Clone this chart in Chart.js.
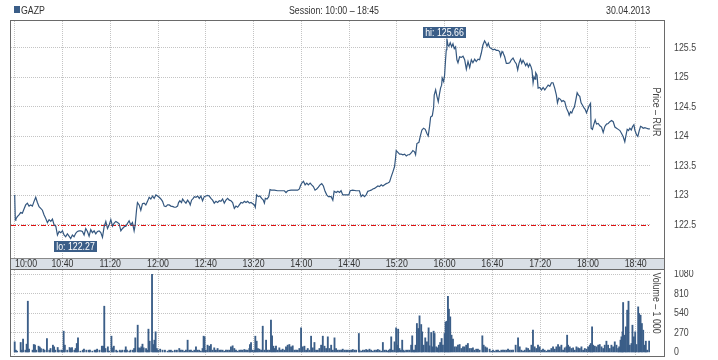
<!DOCTYPE html>
<html><head><meta charset="utf-8">
<script src="https://cdn.jsdelivr.net/npm/chart.js@4.4.1/dist/chart.umd.min.js"></script>
<style>
html,body{margin:0;padding:0;background:#fff;width:718px;height:360px;overflow:hidden;}
#wrap{position:relative;width:718px;height:360px;font-family:'Liberation Sans',Arial,sans-serif;color:#333;}
canvas{position:absolute;left:0;}
#c1{top:0;}
#c2{top:270px;}
.t{position:absolute;font-size:10px;line-height:10px;white-space:nowrap;color:#333;}
#frame{position:absolute;left:10px;top:20px;width:655px;height:337px;box-sizing:border-box;border:1px solid #6a6a6a;pointer-events:none;}
.rot{position:absolute;transform:translate(-50%,-50%) rotate(90deg) scaleX(0.88);font-size:10px;line-height:10px;white-space:nowrap;color:#444;}
#sq{position:absolute;left:14px;top:6px;width:6px;height:7px;background:#3b5e88;}
</style></head>
<body><div id="wrap">
<canvas id="c1" width="718" height="270"></canvas>
<canvas id="c2" width="718" height="90"></canvas>
<div id="frame"></div>
<div id="sq"></div>
<div class="t" id="ticker" style="left:21px;top:6px;transform:scaleX(0.88);transform-origin:left center;"></div>
<div class="t" id="session" style="left:334px;top:6px;transform:translateX(-50%) scaleX(0.88);"></div>
<div class="t" id="date" style="right:68px;top:6px;transform:scaleX(0.88);transform-origin:right center;"></div>
<div class="rot" id="ptitle" style="left:656px;top:112px;"></div>
<div class="rot" id="vtitle" style="left:656px;top:303px;"></div>
</div>
<script>
// ---- texts ----
const tickerName = 'GAZP';
const sessionText = 'Session: 10:00 \u2013 18:45';
const dateText = '30.04.2013';
const priceTitle = 'Price \u2013 RUR';
const volumeTitle = 'Volume \u2013 1 000';

// ---- tick labels ----
const timeTickMinutes = [0,40,80,120,160,200,240,280,320,360,400,440,480,520];
const timeTickLabels = ['10:00','10:40','11:20','12:00','12:40','13:20','14:00','14:40','15:20','16:00','16:40','17:20','18:00','18:40'];
const priceTicks = [122.5,123,123.5,124,124.5,125,125.5];
const volumeTicks = [0,270,540,810,1080];
const prevClose = 122.5;

// ---- price series: [minutes since 10:00, price] ----
const pricePoints = [
[0,123.01],[0.5,122.58],[1.0,122.60],[2.2,122.64],[3.6,122.67],[5.0,122.71],[6.4,122.70],[7.8,122.77],[9.2,122.84],[10.6,122.87],
[12.0,122.82],[13.4,122.84],[14.8,122.82],[16.2,122.90],[17.6,122.97],[19.0,122.88],[20.4,122.81],[21.8,122.78],[23.2,122.75],[24.6,122.67],
[26.0,122.61],[27.4,122.54],[28.8,122.59],[30.2,122.56],[31.6,122.60],[33.0,122.50],[34.4,122.48],[35.8,122.33],[37.2,122.39],[38.6,122.37],
[40.0,122.40],[41.3,122.33],[42.7,122.30],[44.1,122.35],[45.5,122.31],[46.9,122.27],[48.3,122.33],[49.7,122.30],[51.1,122.36],[52.5,122.39],
[53.9,122.40],[55.3,122.40],[56.7,122.39],[58.1,122.33],[59.5,122.44],[60.9,122.39],[62.3,122.31],[63.7,122.42],[65.1,122.37],[66.5,122.40],
[67.9,122.35],[69.3,122.39],[70.7,122.40],[72.1,122.37],[73.5,122.29],[74.9,122.47],[76.3,122.56],[77.7,122.44],[79.1,122.50],[80.5,122.59],
[81.9,122.48],[83.3,122.53],[84.7,122.56],[86.1,122.54],[87.5,122.52],[88.9,122.40],[90.3,122.44],[91.7,122.47],[93.1,122.48],[94.5,122.53],
[95.8,122.57],[97.2,122.50],[98.6,122.54],[100.0,122.40],[100.9,122.50],[102.0,122.75],[102.8,122.88],[104.2,122.84],[105.6,122.75],[107.0,122.86],
[108.4,122.87],[109.8,122.84],[111.2,122.90],[112.6,122.97],[114.0,122.94],[115.4,122.99],[116.8,122.95],[118.2,123.01],[119.6,122.99],[121.0,122.97],
[122.4,122.94],[123.8,122.90],[125.2,122.82],[126.6,122.81],[128.0,122.84],[129.4,122.84],[130.8,122.82],[132.7,122.81],
[133.6,122.80],[135.0,122.80],[136.4,122.82],[137.2,122.88],[138.3,122.91],[139.7,122.88],[140.6,122.94],[142.0,122.90],[143.4,122.87],[144.8,122.92],
[146.2,122.88],[147.0,122.84],[148.1,122.92],[149.5,122.95],[150.4,122.98],[151.8,122.97],[153.2,122.99],[154.6,122.95],[155.9,122.99],[157.3,122.91],
[158.7,122.98],[160.1,122.99],[161.5,123.00],[162.9,122.99],[164.3,122.95],[165.7,122.92],[167.1,122.87],[168.5,122.90],[169.9,122.88],[171.3,122.91],
[172.7,122.90],[174.1,122.94],[175.5,122.87],[176.9,122.92],[178.3,122.95],[179.7,122.92],[181.1,122.91],[182.5,122.88],[183.9,122.78],[185.3,122.82],
[186.7,122.80],[188.1,122.84],[189.5,122.88],[190.9,122.87],[192.3,122.90],[193.7,122.88],[195.1,122.90],[196.5,122.87],[197.9,122.88],[199.3,122.86],
[200.7,122.84],[201.5,122.80],[202.6,123.01],[204.0,122.98],[205.4,122.99],[206.8,122.95],[208.2,122.92],[209.1,122.87],[209.9,122.95],[211.3,122.94],
[212.7,122.98],[213.8,123.10],[214.9,123.09],[217.4,123.09],[220.2,123.08],[223.0,123.08],[225.8,123.08],[227.2,123.05],[228.6,123.08],[231.4,123.09],
[234.2,123.09],[237.0,123.09],[238.4,123.11],[239.2,123.16],[240.4,123.21],[241.8,123.24],[243.2,123.18],[244.6,123.21],[245.9,123.18],[247.4,123.21],
[248.7,123.18],[250.1,123.15],[251.5,123.09],[252.9,123.11],[254.3,123.14],[255.7,123.18],[257.1,123.20],[258.5,123.16],[259.9,123.07],[261.3,123.01],
[262.7,122.98],[265.0,122.98],[266.4,122.92],[267.5,123.07],[269.2,123.05],[270.6,123.07],[272.0,123.05],[273.3,123.08],[274.7,123.01],[277.5,123.01],
[279.8,123.01],[280.9,123.08],[283.1,123.09],[285.9,123.08],[288.7,123.08],[290.1,122.98],[291.5,123.01],[292.9,122.98],[294.3,123.01],[295.7,123.07],
[297.1,123.08],[298.5,123.09],[299.9,123.11],[301.3,123.12],[302.7,123.14],[304.1,123.16],[305.5,123.15],[306.9,123.18],[308.3,123.16],[309.7,123.18],
[311.1,123.20],[312.5,123.21],[313.9,123.23],[315.3,123.32],[316.7,123.40],[318.1,123.49],[318.9,123.63],[319.5,123.76],[320.9,123.73],[322.3,123.70],
[323.7,123.70],[325.1,123.69],[326.5,123.70],[327.9,123.67],[329.3,123.69],[330.6,123.69],[332.0,123.72],[333.4,123.76],[334.8,123.74],[335.7,123.69],
[336.8,123.88],[338.5,123.90],[339.6,124.00],[341.0,124.11],[342.4,124.14],[343.8,124.12],[345.2,124.05],[346.3,124.01],[347.4,124.17],[348.3,124.33],
[349.7,124.35],[350.8,124.49],[351.3,124.70],[352.5,124.79],[353.6,124.68],[354.7,124.59],[355.8,124.73],[356.6,124.82],[357.5,124.87],[358.0,124.99],
[359.2,124.93],[360.0,125.04],[360.8,125.30],[361.4,125.47],[361.9,125.66],[362.8,125.55],[363.6,125.53],[364.7,125.59],[365.9,125.52],[367.0,125.57],
[368.1,125.49],[369.2,125.52],[370.3,125.30],[371.2,125.25],[372.6,125.35],[374.0,125.34],[375.4,125.36],[376.8,125.30],[378.2,125.14],[379.6,125.27],
[381.0,125.17],[382.4,125.30],[383.7,125.25],[385.2,125.31],[386.5,125.27],[388.0,125.31],[389.3,125.30],[390.7,125.41],[392.1,125.55],[393.5,125.62],
[394.4,125.59],[395.5,125.53],[396.6,125.58],[397.7,125.51],[399.1,125.49],[400.5,125.47],[401.9,125.48],[403.3,125.46],[404.7,125.46],[406.1,125.44],
[406.9,125.36],[408.1,125.44],[408.9,125.42],[410.3,125.35],[411.7,125.24],[413.1,125.24],[414.5,125.25],[415.9,125.30],[417.3,125.33],[418.7,125.27],
[420.1,125.23],[421.2,125.13],[422.3,125.24],[423.5,125.31],[424.6,125.24],[425.7,125.29],[426.8,125.25],[427.9,125.20],[429.0,125.24],[430.2,125.18],
[431.3,125.23],[432.4,125.18],[433.2,125.12],[434.1,124.91],[434.9,125.01],[435.8,124.97],[436.3,125.08],[437.4,125.04],[438.3,124.82],[439.7,124.83],
[441.1,124.79],[442.5,124.83],[443.9,124.79],[445.3,124.83],[446.7,124.87],[448.1,124.85],[449.5,124.91],[450.8,124.91],[452.2,124.82],[453.6,124.70],
[454.5,124.57],[455.6,124.65],[457.0,124.63],[458.1,124.59],[459.2,124.61],[460.6,124.59],[462.0,124.48],[463.4,124.42],[464.3,124.36],[465.4,124.42],
[466.5,124.40],[467.6,124.46],[468.7,124.50],[469.9,124.62],[471.0,124.74],[472.1,124.70],[473.2,124.68],[474.3,124.57],[475.5,124.53],[476.6,124.49],
[477.7,124.46],[478.8,124.40],[479.9,124.46],[481.0,124.52],[482.2,124.56],[482.7,124.14],[483.8,124.12],[484.9,124.20],[486.1,124.28],[487.2,124.21],
[488.6,124.22],[490.0,124.18],[491.4,124.16],[492.8,124.07],[494.2,124.17],[495.6,124.21],[497.0,124.22],[498.4,124.25],[499.8,124.27],[501.2,124.25],
[502.6,124.16],[504.0,124.14],[505.4,124.12],[506.8,124.10],[508.2,124.05],[509.5,124.00],[510.9,123.91],[511.8,124.01],[512.9,124.12],[514.0,124.10],
[515.1,124.14],[516.3,124.11],[517.4,124.17],[518.5,124.20],[519.3,124.11],[520.7,124.03],[521.8,124.00],[523.0,124.10],[524.1,124.17],[525.2,124.16],
[526.3,124.14],[527.7,124.15],[529.1,124.14],[530.5,124.13],[531.9,124.13]
];

// ---- volume series: [minutes since 10:00, volume in thousands] ----
const volumePoints = [
[0,147],[1,32],[2,18],[5,138],[6,32],[7,184],[9,32],[10,115],[11,708],[12,46],[15,32],[16,110],[17,101],[18,32],[20,87],[21,74],[22,55],[24,46],[25,32],[27,193],
[29,32],[30,55],[32,101],[33,78],[34,32],[36,69],[37,32],[39,32],[40,32],[41,294],[42,101],[44,32],[46,69],[47,55],[48,69],[50,32],[51,55],[52,124],[53,202],[55,18],
[57,32],[58,46],[60,32],[62,32],[63,32],[65,18],[67,32],[68,32],[69,46],[71,32],[73,87],[74,87],[75,639],[76,55],[78,78],[79,18],[81,225],[82,64],[83,87],[85,32],
[86,18],[88,32],[89,18],[90,32],[92,32],[93,78],[94,32],[96,18],[97,32],[99,32],[100,55],[101,202],[103,377],[104,64],[105,55],[106,78],[107,115],[108,64],[110,55],[111,32],
[112,322],[113,156],[115,1080],[116,110],[117,170],[118,285],[119,55],[120,32],
[121.8,46],[123.8,32],[125.8,32],[128.0,18],[129.4,32],[130.8,32],[132.2,18],[134.1,32],[135.8,32],[137.8,55],[139.2,32],[140.6,32],[142.0,18],[143.4,32],[144.8,170],
[146.2,32],[147.6,32],[149.0,18],[150.4,32],[151.8,78],[153.1,32],[154.5,32],[155.9,18],[157.3,55],[158.2,225],[159.0,216],[160.1,32],[161.5,101],[162.9,87],[164.3,110],
[165.7,32],[167.1,64],[168.5,32],[169.9,55],[171.3,32],[172.7,32],[174.1,32],[175.5,18],[176.9,32],[178.3,32],[179.7,32],[181.1,78],[182.5,92],[183.9,55],[185.3,32],
[186.7,18],[188.1,32],[189.5,32],[190.9,32],[192.3,41],[193.7,32],[195.1,32],[196.5,55],[197.0,110],[197.9,138],[199.3,32],[200.7,32],[201.5,225],[202.6,156],[203.7,55],
[204.9,46],[206.3,32],[207.7,363],[209.1,32],[210.5,170],[211.8,32],[213.2,32],[214.6,446],[215.5,230],[216.6,87],[217.7,55],[218.8,87],[220.2,32],[221.6,64],[223.0,32],
[224.4,46],[225.8,32],[227.2,78],[228.6,101],[230.0,110],[231.4,78],[232.8,92],[234.2,32],[235.6,32],[237.0,32],[238.4,55],[239.8,340],[241.2,78],[242.6,87],[244.0,32],
[245.4,55],[246.8,32],[248.2,225],[249.6,64],[251.0,138],[252.4,32],[253.8,32],[255.2,55],[256.6,101],[258.0,225],[259.4,87],[260.8,55],[262.2,216],[263.6,55],[265.0,101],
[266.4,32],[267.8,202],[269.1,55],[270.5,32],[271.9,32],[273.3,32],[274.7,46],[276.1,32],[277.5,32],[278.9,32],[280.3,32],[281.7,32],[283.1,41],[284.5,32],[285.9,32],
[288.2,262],[288.7,32],[290.1,18],[291.5,32],[292.9,32],[294.3,41],[295.7,32],[297.1,46],[298.5,32],[299.9,18],[301.3,32],[302.7,32],[304.1,41],[305.5,32],[306.9,18],
[308.3,138],[309.7,32],[311.1,32],[312.5,18],[313.3,32],[314.4,46],[315.3,216],[316.7,32],[318.1,147],[319.4,340],[320.3,101],[321.1,322],[322.2,55],[323.4,32],[324.5,170],
[325.6,32],[326.4,18],[327.8,32],[329.2,32],[330.6,32],[332.0,101],[332.9,230],[334.0,32],[334.8,32],[335.7,101],[336.8,400],[337.9,331],[339.0,506],[340.4,386],[341.2,285],
[342.4,101],[343.8,202],[345.2,147],[346.6,340],[347.4,92],[348.8,276],[349.6,78],[350.8,294],[351.6,262],[353.0,78],[354.4,64],[355.2,101],[356.3,138],[357.5,193],[358.6,101],
[360.0,262],[360.8,423],[361.9,432],[362.8,777],[363.6,598],[364.7,492],[365.8,239],[367.0,184],[368.4,78],[369.8,78],[371.2,101],[372.6,110],[374.0,55],[375.4,78],[376.7,78],
[378.1,101],[379.5,124],[380.9,55],[382.3,55],[383.7,64],[385.1,32],[386.5,46],[387.9,46],[389.3,32],[391.6,230],[392.7,101],[394.1,78],[395.5,64],[397.7,46],[399.1,18],
[400.5,32],[401.9,18],[403.3,32],[404.7,32],[406.1,18],[407.5,32],[408.9,32],[410.3,32],[411.7,32],[413.1,46],[414.5,32],[415.9,32],[417.3,32],[419.5,101],[421.5,202],
[422.9,78],[424.3,32],[425.7,18],[427.1,32],[428.5,64],[429.9,55],[431.3,32],[432.7,101],[434.0,308],[435.4,78],[436.8,55],[438.2,101],[439.6,78],[441.0,32],[442.4,46],
[443.8,32],[445.2,18],[446.6,32],[448.0,32],[449.4,55],[450.8,78],[452.2,46],[453.6,78],[455.0,110],[456.4,78],[457.8,101],[459.2,32],[460.6,64],[462.0,78],[462.6,239],
[463.4,101],[464.8,78],[466.2,55],[467.6,64],[469.0,32],[470.4,78],[471.8,64],[473.2,55],[474.6,78],[476.0,32],[477.4,55],[478.8,46],[480.2,78],[481.6,101],[482.4,124],
[483.5,354],[484.4,101],[485.8,87],[487.2,78],[488.6,101],[489.9,110],[491.4,78],[492.8,55],[494.1,101],[495.5,156],[496.9,101],[498.3,55],[499.7,101],[501.1,78],[502.5,147],
[503.9,101],[505.3,55],[506.2,78],[507.3,170],[508.1,216],[509.0,285],[509.5,690],[510.9,239],[511.8,354],[512.9,584],[514.0,708],[515.1,101],[516.5,124],[517.3,377],[518.5,216],
[519.6,285],[520.7,110],[522.1,630],[522.9,538],[524.1,515],[525.2,400],[526.3,308],[527.7,101],[528.5,156],[529.6,32],[531.3,156]
];

// ---- styles ----
const FONT = "'Liberation Sans', Arial, sans-serif";
const SQUEEZE = 0.88;
const LINE = '#34577f';
const BARC = '#3b5e88';
const GRID = '#c4c4c4';
const BAND = '#d9dfe6';
const X_MIN = -3.1, X_MAX = 532;

document.getElementById('ticker').textContent = tickerName;
document.getElementById('session').textContent = sessionText;
document.getElementById('date').textContent = dateText;
document.getElementById('ptitle').textContent = priceTitle;
document.getElementById('vtitle').textContent = volumeTitle;

// draw horizontally condensed canvas text
function narrowText(ctx, txt, x, y, align, color) {
  ctx.save();
  ctx.font = '10px ' + FONT;
  ctx.fillStyle = color;
  ctx.textBaseline = 'middle';
  ctx.textAlign = align;
  ctx.translate(x, y);
  ctx.scale(SQUEEZE, 1);
  ctx.fillText(txt, 0, 0);
  ctx.restore();
}
function narrowWidth(ctx, txt) {
  ctx.save(); ctx.font = '10px ' + FONT;
  const w = ctx.measureText(txt).width * SQUEEZE;
  ctx.restore(); return w;
}

const rightLabels = (ticks) => ({
  id: 'rightLabels',
  afterDraw(chart) {
    const {ctx, chartArea: a, scales: {y}} = chart;
    ticks.forEach(v => narrowText(ctx, String(v), a.right + 24, Math.round(y.getPixelForValue(v)) + 0.5, 'left', '#444'));
  }
});

const bandPlugin = {
  id: 'band',
  afterDraw(chart) {
    const {ctx, chartArea: a, scales: {x}} = chart;
    ctx.save();
    ctx.fillStyle = BAND;
    ctx.fillRect(11, a.bottom, 653, 11);
    ctx.strokeStyle = '#8a8a8a'; ctx.lineWidth = 1;
    ctx.beginPath(); ctx.moveTo(11, a.bottom + 0.5); ctx.lineTo(664, a.bottom + 0.5); ctx.stroke();
    ctx.strokeStyle = '#6a6a6a';
    ctx.beginPath(); ctx.moveTo(11, a.bottom + 11.5); ctx.lineTo(664, a.bottom + 11.5); ctx.stroke();
    ctx.restore();
    timeTickMinutes.forEach((m, i) => {
      const lbl = timeTickLabels[i];
      const w = narrowWidth(ctx, lbl);
      const left = Math.max(x.getPixelForValue(m) - w / 2, a.left + 4);
      narrowText(ctx, lbl, left, a.bottom + 6.5, 'left', '#333');
    });
  }
};

const refLinePlugin = {
  id: 'refLine',
  beforeDatasetsDraw(chart) {
    const {ctx, chartArea: a, scales: {y}} = chart;
    const py = Math.round(y.getPixelForValue(prevClose)) + 0.5;
    ctx.save();
    ctx.strokeStyle = '#e01010'; ctx.lineWidth = 1; ctx.setLineDash([5, 2, 1, 2]);
    ctx.beginPath(); ctx.moveTo(a.left, py); ctx.lineTo(a.right, py); ctx.stroke();
    ctx.restore();
  }
};

const hiLoPlugin = {
  id: 'hiLo',
  afterDraw(chart) {
    const {ctx, scales: {x, y}} = chart;
    let hi = pricePoints[0], lo = pricePoints[0];
    pricePoints.forEach(p => { if (p[1] > hi[1]) hi = p; if (p[1] < lo[1]) lo = p; });
    const box = (txt, px, top) => {
      const w = Math.round(narrowWidth(ctx, txt) + 4);
      const left = Math.round(px - w / 2);
      ctx.save(); ctx.fillStyle = '#3b5e88'; ctx.fillRect(left, top, w, 11); ctx.restore();
      narrowText(ctx, txt, left + w / 2, top + 6, 'center', '#ffffff');
    };
    const hx = x.getPixelForValue(hi[0]), hy = y.getPixelForValue(hi[1]);
    box('hi: ' + hi[1].toFixed(2), hx - 2, Math.round(hy) - 12);
    const lx = x.getPixelForValue(lo[0]), ly = y.getPixelForValue(lo[1]);
    box('lo: ' + lo[1].toFixed(2), lx + 5, Math.round(ly) + 2);
  }
};

const xScale = (h) => ({
  type: 'linear', min: X_MIN, max: X_MAX, offset: false,
  afterBuildTicks: s => { s.ticks = timeTickMinutes.map(v => ({value: v})); },
  afterFit: s => { s.height = h; s.paddingLeft = 0; s.paddingRight = 0; },
  ticks: {display: false},
  grid: {color: GRID, lineWidth: 1, drawTicks: false, offset: false},
  border: {display: false, dash: [1, 1]}
});
const yScale = (min, max, ticks, hideZero) => ({
  type: 'linear', position: 'right', min: min, max: max,
  afterBuildTicks: s => { s.ticks = ticks.map(v => ({value: v})); },
  afterFit: s => { s.width = 68; s.paddingTop = 0; s.paddingBottom = 0; },
  ticks: {display: false},
  grid: {color: c => (hideZero && c.tick && c.tick.value === 0) ? 'rgba(0,0,0,0)' : GRID, drawTicks: false},
  border: {display: false, dash: [1, 1]}
});

new Chart(document.getElementById('c1'), {
  type: 'line',
  data: {datasets: [{
    data: pricePoints.map(p => ({x: p[0], y: p[1]})),
    borderColor: LINE, borderWidth: 1.2, pointRadius: 0, tension: 0, fill: false
  }]},
  options: {
    responsive: false, animation: false, events: [],
    layout: {padding: {left: 11, top: 21, right: 0, bottom: 0}},
    plugins: {legend: {display: false}, tooltip: {enabled: false}},
    scales: {x: xScale(12), y: yScale(121.94, 125.957, priceTicks, false)}
  },
  plugins: [bandPlugin, refLinePlugin, hiLoPlugin, rightLabels(priceTicks)]
});

new Chart(document.getElementById('c2'), {
  type: 'bar',
  data: {datasets: [{
    data: volumePoints.map(p => ({x: p[0], y: p[1]})),
    backgroundColor: BARC, borderWidth: 0, barThickness: 1.2
  }]},
  options: {
    responsive: false, animation: false, events: [],
    layout: {padding: {left: 11, top: 0, right: 0, bottom: 5}},
    plugins: {legend: {display: false}, tooltip: {enabled: false}},
    scales: {x: xScale(0), y: yScale(-35, 1139, volumeTicks, true)}
  },
  plugins: [rightLabels(volumeTicks)]
});
</script>
</body></html>
